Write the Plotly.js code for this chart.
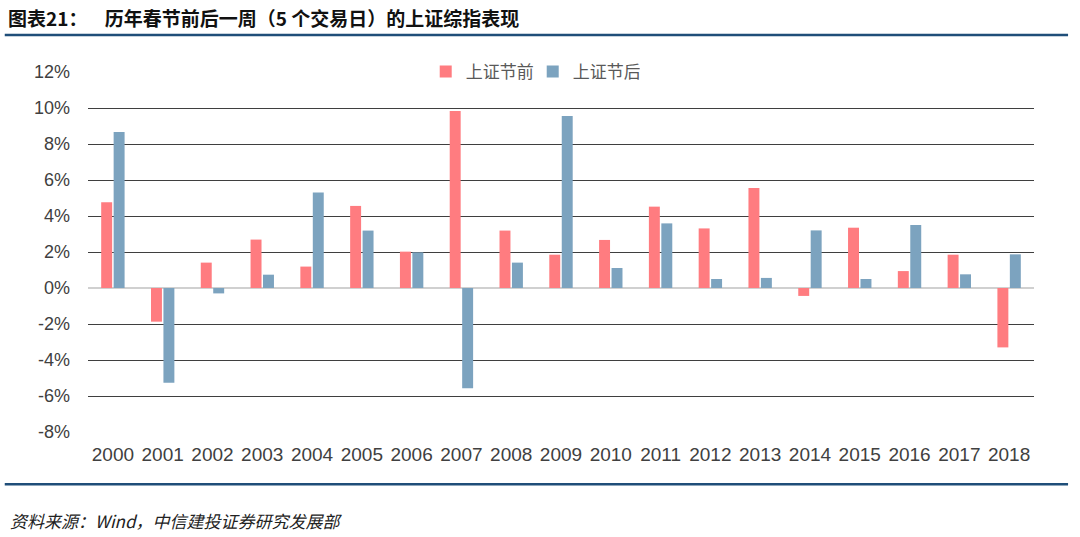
<!DOCTYPE html>
<html>
<head>
<meta charset="utf-8">
<script src="https://cdn.plot.ly/plotly-3.0.1.min.js"></script>
<style>
	body { margin: 0; background: #fff; }
	#chart { width: 1080px; height: 537px; }
</style>
</head>
<body>
<div id="chart"></div>
<script>
var years = ["2000", "2001", "2002", "2003", "2004", "2005", "2006", "2007", "2008", "2009",
	"2010", "2011", "2012", "2013", "2014", "2015", "2016", "2017", "2018"];

// 上证综指 节前5个交易日涨跌幅 (%)
var beforeFestival = [4.76, -1.87, 1.41, 2.69, 1.19, 4.56, 2.02, 9.83, 3.19, 1.85,
	2.67, 4.52, 3.31, 5.56, -0.44, 3.35, 0.94, 1.85, -3.3];

// 上证综指 节后5个交易日涨跌幅 (%)
var afterFestival = [8.67, -5.26, -0.3, 0.74, 5.3, 3.19, 1.98, -5.57, 1.41, 9.56,
	1.11, 3.59, 0.5, 0.56, 3.2, 0.5, 3.5, 0.76, 1.87];

var yTicks = [-8, -6, -4, -2, 0, 2, 4, 6, 8, 10, 12];
var yTickText = yTicks.map(function (v) { return v + "%"; });

var trace1 = {
	x: years,
	y: beforeFestival,
	name: "上证节前",
	type: "bar",
	marker: { color: "rgb(255, 124, 128)" },
};

var trace2 = {
	x: years,
	y: afterFestival,
	name: "上证节后",
	type: "bar",
	marker: { color: "rgb(124, 163, 191)" },
};

var data = [trace1, trace2];

var layout = {
	width: 1080,
	height: 537,
	paper_bgcolor: "#fff",
	plot_bgcolor: "#fff",
	margin: { l: 88, r: 46, t: 72, b: 105 },
	barmode: "group",
	bargap: 0.5,
	bargroupgap: 0.12,
	font: { family: "Liberation Sans, Arial, sans-serif", size: 17, color: "#404040" },
	showlegend: true,
	legend: {
		orientation: "h",
		x: 0.357,
		y: 1.0,
		xanchor: "left",
		yanchor: "middle",
		bgcolor: "rgba(0,0,0,0)",
		font: { family: "Noto Sans CJK SC", size: 17, color: "#595959" },
		itemwidth: 30,
		entrywidth: 62,
		entrywidthmode: "pixels",
		traceorder: "normal",
	},
	xaxis: {
		type: "category",
		showgrid: false,
		showline: false,
		ticks: "",
		ticklabelstandoff: 9,
		tickfont: { size: 19, color: "#404040" },
	},
	yaxis: {
		range: [-8, 12],
		tickvals: yTicks,
		ticktext: yTickText,
		showgrid: true,
		gridcolor: "#3f3f3f",
		gridwidth: 1,
		zeroline: true,
		zerolinecolor: "#d0d0d0",
		zerolinewidth: 1.5,
		showline: false,
		ticks: "",
		ticklabelstandoff: 17,
		tickfont: { size: 18, color: "#404040" },
	},
	shapes: [
		{ type: "line", xref: "paper", yref: "paper", x0: -0.088, x1: 1.036, y0: 1.103, y1: 1.103,
			line: { color: "#1f4e79", width: 2.5 } },
		{ type: "line", xref: "paper", yref: "paper", x0: -0.088, x1: 1.036, y0: -0.145, y1: -0.145,
			line: { color: "#1f4e79", width: 2.5 } },
	],
	annotations: [
		{ xref: "paper", yref: "paper", x: -0.087, y: 1.152, xanchor: "left", yanchor: "middle", showarrow: false,
			text: "<b>图表21：    历年春节前后一周（5 个交易日）的上证综指表现</b>",
			font: { family: "Noto Sans CJK SC", size: 19, color: "#111" } },
		{ xref: "paper", yref: "paper", x: -0.085, y: -0.247, xanchor: "left", yanchor: "middle", showarrow: false,
			text: "<i>资料来源：Wind，中信建投证券研究发展部</i>",
			font: { family: "Noto Sans CJK SC", size: 17, color: "#222" } },
	],
};

var config = {
	displayModeBar: false,
	staticPlot: true,
};

Plotly.newPlot("chart", data, layout, config);
</script>
</body>
</html>
